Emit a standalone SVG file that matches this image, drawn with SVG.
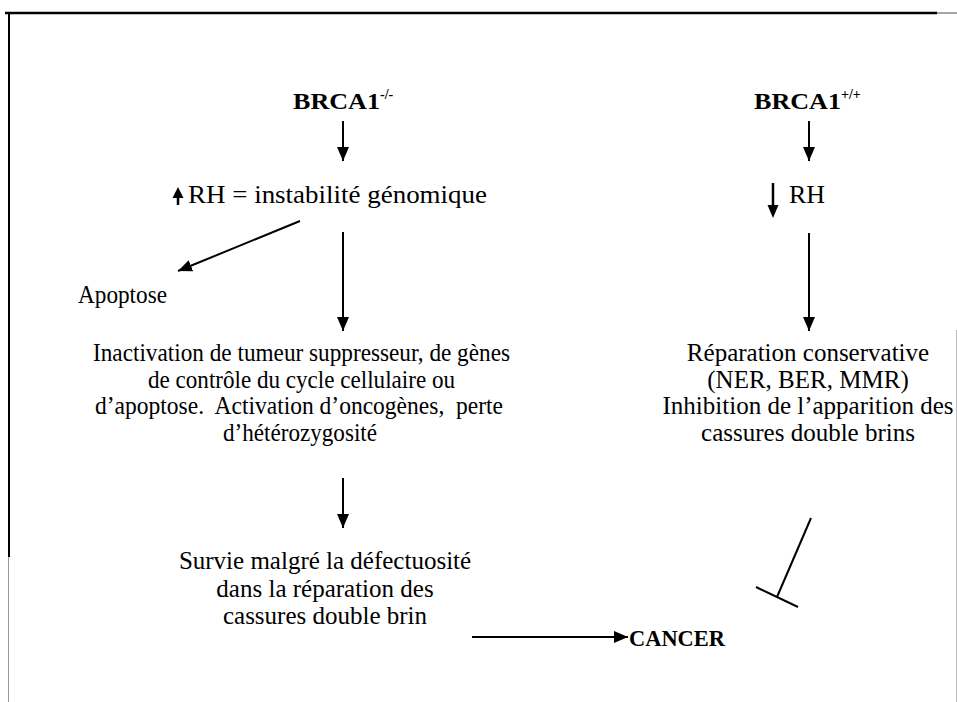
<svg xmlns="http://www.w3.org/2000/svg" width="957" height="702" viewBox="0 0 957 702">
  <style>
    text { font-family: "Liberation Serif", "Times New Roman", serif; fill: #000; }
    .t { font-size: 25px; }
    .c { font-size: 25px; text-anchor: middle; }
    .b { font-size: 24px; font-weight: bold; }
    .sup { font-size: 14px; }
    .ln { stroke: #000; stroke-width: 2; fill: none; }
  </style>
  <defs>
    <marker id="head" viewBox="0 0 14 12" refX="14" refY="6" markerWidth="14" markerHeight="12" markerUnits="userSpaceOnUse" orient="auto">
      <path d="M0,0 L14,6 L0,12 z" fill="#000"/>
    </marker>
  </defs>

  <rect x="0" y="0" width="957" height="702" fill="#fff"/>

  <!-- frame -->
  <g id="frame">
    <line x1="5" y1="13" x2="937" y2="13" stroke="#000" stroke-width="2.5"/>
    <line x1="937" y1="13" x2="957" y2="13" stroke="#888" stroke-width="1.5"/>
    <line x1="9" y1="13" x2="9" y2="557" stroke="#000" stroke-width="2"/>
    <line x1="8.5" y1="557" x2="8.5" y2="702" stroke="#999" stroke-width="1"/>
    <line x1="956.5" y1="330" x2="956.5" y2="702" stroke="#bbb" stroke-width="1"/>
  </g>

  <!-- left branch -->
  <g id="brca1-null">
    <text class="b" x="293" y="109"><tspan textLength="87" lengthAdjust="spacingAndGlyphs">BRCA1</tspan><tspan class="sup" dy="-10">-/-</tspan></text>
  </g>
  <g id="rh-up">
    <path d="M178,205 V195" stroke="#000" stroke-width="2.5"/>
    <path d="M172.5,198 L178,187 L183.5,198 z" fill="#000"/>
    <text class="t" x="188" y="203" textLength="299" lengthAdjust="spacingAndGlyphs">RH = instabilité génomique</text>
  </g>
  <g id="apoptose">
    <text class="t" x="78" y="303" textLength="89" lengthAdjust="spacingAndGlyphs">Apoptose</text>
  </g>
  <g id="inactivation">
    <text class="t" x="93" y="361" textLength="417" lengthAdjust="spacingAndGlyphs">Inactivation de tumeur suppresseur, de gènes</text>
    <text class="t" x="148" y="388" textLength="307" lengthAdjust="spacingAndGlyphs">de contrôle du cycle cellulaire ou</text>
    <text class="t" x="95" y="414" textLength="408" lengthAdjust="spacingAndGlyphs" xml:space="preserve">d’apoptose.  Activation d’oncogènes,  perte</text>
    <text class="t" x="223" y="441" textLength="154" lengthAdjust="spacingAndGlyphs">d’hétérozygosité</text>
  </g>
  <g id="survie">
    <text class="c" x="325" y="569">Survie malgré la défectuosité</text>
    <text class="c" x="325" y="597">dans la réparation des</text>
    <text class="c" x="325" y="624">cassures double brin</text>
  </g>
  <g id="cancer">
    <text class="b" x="629" y="646" textLength="96" lengthAdjust="spacingAndGlyphs">CANCER</text>
  </g>

  <!-- right branch -->
  <g id="brca1-wt">
    <text class="b" x="754" y="109"><tspan textLength="87" lengthAdjust="spacingAndGlyphs">BRCA1</tspan><tspan class="sup" dy="-10">+/+</tspan></text>
  </g>
  <g id="rh-down">
    <path d="M773,183 V208" stroke="#000" stroke-width="2.5"/>
    <path d="M767.5,205 L773,218 L778.5,205 z" fill="#000"/>
    <text class="t" x="789" y="203" textLength="36" lengthAdjust="spacingAndGlyphs">RH</text>
  </g>
  <g id="reparation">
    <text class="c" x="808" y="361">Réparation conservative</text>
    <text class="c" x="808" y="388">(NER, BER, MMR)</text>
    <text class="c" x="808" y="414">Inhibition de l’apparition des</text>
    <text class="c" x="808" y="441">cassures double brins</text>
  </g>

  <!-- connectors -->
  <g id="connectors">
    <line class="ln" x1="343" y1="121" x2="343" y2="161" marker-end="url(#head)"/>
    <line class="ln" x1="300" y1="221" x2="178" y2="271" marker-end="url(#head)"/>
    <line class="ln" x1="343" y1="232" x2="343" y2="331" stroke-width="2.5" marker-end="url(#head)"/>
    <line class="ln" x1="343" y1="478" x2="343" y2="528" marker-end="url(#head)"/>
    <line class="ln" x1="472" y1="637" x2="628" y2="637" stroke-width="3" marker-end="url(#head)"/>
    <line class="ln" x1="809" y1="121" x2="809" y2="161" marker-end="url(#head)"/>
    <line class="ln" x1="809" y1="233" x2="809" y2="331" stroke-width="2.5" marker-end="url(#head)"/>
    <!-- inhibition bar -->
    <line class="ln" x1="811" y1="518" x2="777" y2="597" stroke-width="3"/>
    <line class="ln" x1="756" y1="587" x2="798" y2="607" stroke-width="3"/>
  </g>
</svg>
